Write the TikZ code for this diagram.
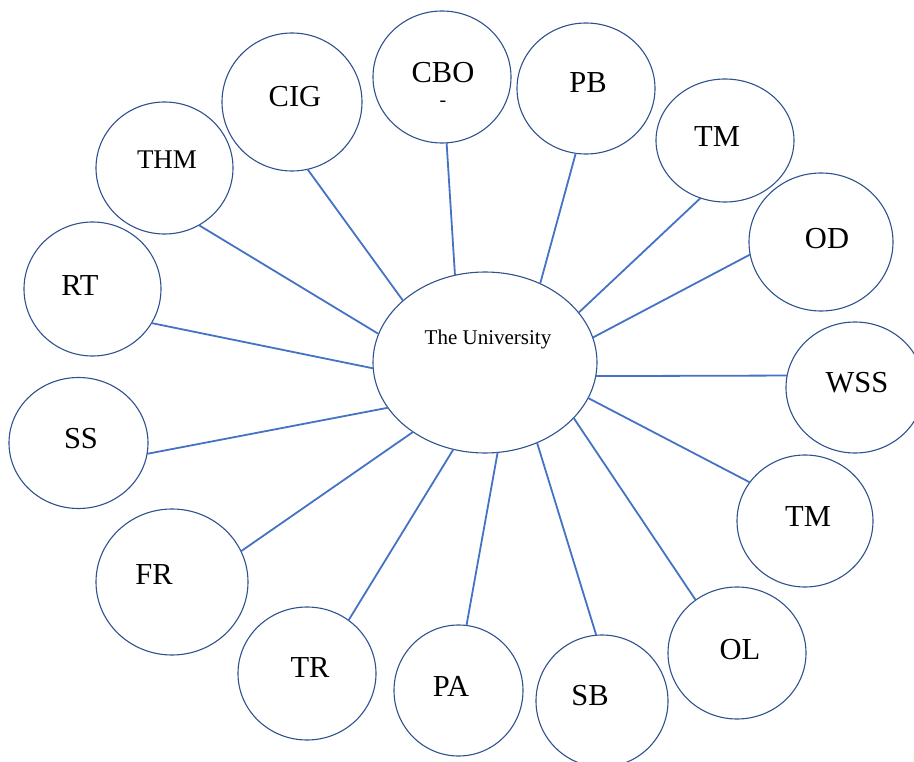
\documentclass[tikz,border=0pt]{standalone}
\usepackage{fontspec}
\setmainfont{Liberation Serif}
\usepackage{tikz}
\usetikzlibrary{shapes.geometric}
\definecolor{rimblue}{RGB}{47,82,143}
\definecolor{linkblue}{RGB}{68,114,196}
\tikzset{%
    bubble/.style={ellipse, draw=rimblue, line width=1.1pt, inner sep=0pt, outer sep=0pt,
        minimum width=138pt, minimum height=132pt},
    hub/.style={bubble, minimum width=224pt, minimum height=181pt},
    tag/.style={font=\fontsize{30.5}{36}\selectfont},
    link/.style={draw=linkblue, line width=1.8pt}
}

\begin{document}
\begin{tikzpicture}[x=1pt,y=-1pt]
		\path[use as bounding box, clip] (0,0) rectangle (914,762);

		\node[hub]                                         (uni)  at (485,362.5) {};
		\node[bubble,minimum width=137pt]                  (thm)  at (164.5,168) {};
		\node[bubble,minimum width=140pt,minimum height=138pt] (cig) at (292,102) {};
		\node[bubble]                                      (cbo)  at (442,77)    {};
		\node[bubble,minimum height=131pt]                 (pb)   at (586,88.5)  {};
		\node[bubble,minimum height=123pt]                 (tmup) at (725,140.5) {};
		\node[bubble,minimum width=144pt,minimum height=138pt] (od) at (821,242) {};
		\node[bubble,minimum height=131pt]                 (wss)  at (855,387.5) {};
		\node[bubble,minimum width=136pt]                  (tmlo) at (805,521)   {};
		\node[bubble]                                      (ol)   at (737,653)   {};
		\node[bubble,minimum width=132pt]                  (sb)   at (602,701)   {};
		\node[bubble,minimum width=129pt,minimum height=131pt] (pa) at (458.5,690.5) {};
		\node[bubble,minimum height=133pt]                 (tr)   at (307,673.5) {};
		\node[bubble,minimum width=152pt,minimum height=146pt] (fr) at (172,582) {};
		\node[bubble,minimum width=139pt,minimum height=131pt] (ss) at (78.5,443) {};
		\node[bubble,minimum width=137pt,minimum height=134pt] (rt) at (92.5,289) {};

		% labels sit a little above the middle, as in a text box
		\node[font=\fontsize{21}{25}\selectfont] (unilab) at (488,339) {The University};
		\node[font=\fontsize{27}{32}\selectfont] (thmlab)  at (167,160) {THM};
		\node[tag] (ciglab)  at (295,97)  {CIG};
		\node[font=\fontsize{30.5}{24}\selectfont, align=center, inner sep=0pt, anchor=north]
			(cbolab) at (443,62) {CBO\\{\fontsize{20}{24}\selectfont -}};
		\node[tag] (pblab)   at (588,83)  {PB};
		\node[tag] (tmuplab) at (717,137) {TM};
		\node[tag] (odlab)   at (827,239) {OD};
		\node[tag] (wsslab)  at (857,383) {WSS};
		\node[tag] (tmlolab) at (808,517) {TM};
		\node[tag] (ollab)   at (740,650) {OL};
		\node[tag] (sblab)   at (590,696) {SB};
		\node[tag] (palab)   at (451,686) {PA};
		\node[tag] (trlab)   at (310,668) {TR};
		\node[tag] (frlab)   at (154,575) {FR};
		\node[tag] (sslab)   at (81,439)  {SS};
		\node[tag] (rtlab)   at (80,286)  {RT};

		\path[link]
		(uni.165.7)	edge	(thm.-59)
		(uni.143)	edge	(cig.-77.9)
		(uni.109.5)	edge	(cbo.-86.5)
		(uni.55.2)	edge	(pb.-99.5)
		(uni.28.1)	edge	(tmup.-113.9)
		(uni.13.8)	edge	(od.-170)
		(uni.-7.4)	edge	(wss.170.2)
		(uni.-19.9)	edge	(tmlo.145)
		(uni.-32)	edge	(ol.128.8)
		(uni.-57.3)	edge	(sb.95.6)
		(uni.-82)	edge	(pa.83.5)
		(uni.-110)	edge	(tr.52.4)
		(uni.-136)	edge	(fr.24.2)
		(uni.-155.8)	edge	(ss.-9)
		(uni.-177.6)	edge	(rt.-30.7);
	\end{tikzpicture}
\end{document}
